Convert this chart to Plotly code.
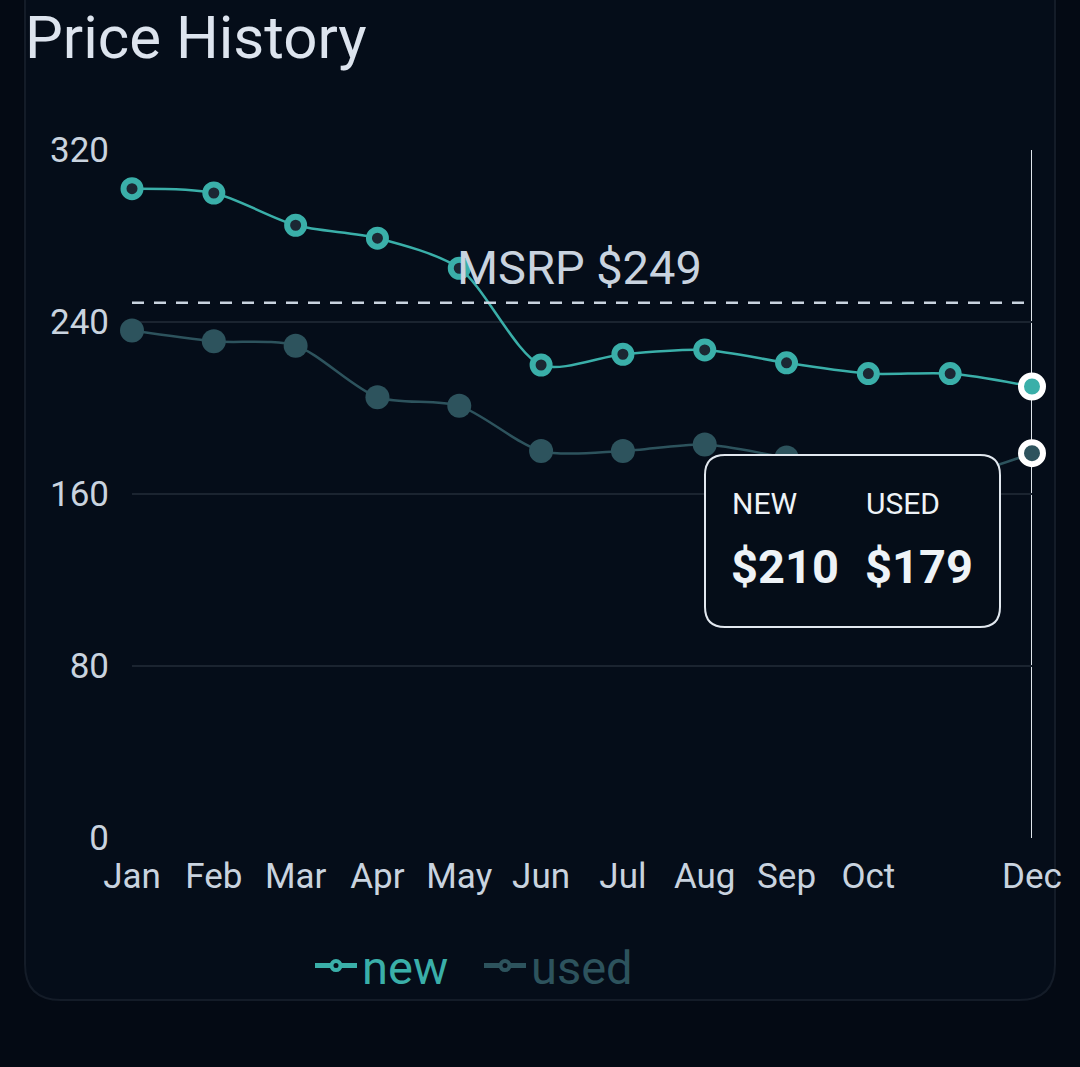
import plotly.graph_objects as go

months = ["Jan", "Feb", "Mar", "Apr", "May", "Jun", "Jul", "Aug", "Sep", "Oct", "Nov", "Dec"]
tick_months = ["Jan", "Feb", "Mar", "Apr", "May", "Jun", "Jul", "Aug", "Sep", "Oct", "Dec"]
new_prices = [302, 300, 285, 279, 265, 220, 225, 227, 221, 216, 216, 210]
used_prices = [236, 231, 229, 205, 201, 180, 180, 183, 177, 172, 168, 179]
msrp = 249
y_ticks = [0, 80, 160, 240, 320]

TEAL = "#3aafa9"
SLATE = "#2d535d"
BG = "#040a14"
CARD = "#050d19"
TXT = "#c9d3df"

# plot-area geometry (pixels) for layout-only decorations
L, R, T, B = 132, 1032, 150, 838
W, H = R - L, B - T


def px(x):
    return (x - L) / W


def py(y):
    return (B - y) / H


def rrect(x0, y0, x1, y1, r):
    pts = [
        ("M", [(x0 + r, y0)]),
        ("L", [(x1 - r, y0)]),
        ("Q", [(x1, y0), (x1, y0 + r)]),
        ("L", [(x1, y1 - r)]),
        ("Q", [(x1, y1), (x1 - r, y1)]),
        ("L", [(x0 + r, y1)]),
        ("Q", [(x0, y1), (x0, y1 - r)]),
        ("L", [(x0, y0 + r)]),
        ("Q", [(x0, y0), (x0 + r, y0)]),
    ]
    s = ""
    for cmd, ps in pts:
        s += cmd + " " + " ".join(f"{px(a):.5f},{py(b):.5f}" for a, b in ps) + " "
    return s + "Z"


fig = go.Figure()

fig.add_trace(go.Scatter(
    x=months, y=new_prices, mode="lines+markers", name="new", showlegend=False,
    line=dict(color=TEAL, width=2.5, shape="spline", smoothing=0.8),
    marker=dict(size=17, color="#1b2733", line=dict(color=TEAL, width=6)),
    cliponaxis=False,
))
fig.add_trace(go.Scatter(
    x=months, y=used_prices, mode="lines+markers", name="used", showlegend=False,
    line=dict(color=SLATE, width=2.5, shape="spline", smoothing=0.8),
    marker=dict(size=24, color=SLATE, line=dict(color=SLATE, width=0)),
    cliponaxis=False,
))
# highlighted (hovered) last points
fig.add_trace(go.Scatter(
    x=[months[-1], months[-1]], y=[new_prices[-1], used_prices[-1]], mode="markers",
    marker=dict(size=22, color=[TEAL, SLATE], line=dict(color="#ffffff", width=6)),
    showlegend=False, cliponaxis=False,
))
# legend entries
for nm, col in [("new", TEAL), ("used", SLATE)]:
    fig.add_trace(go.Scatter(
        x=[None], y=[None], mode="lines+markers",
        name=f"<span style='color:{col}'>{nm}</span>",
        line=dict(color=col, width=5),
        marker=dict(size=9, color=CARD, line=dict(color=col, width=4)),
    ))

shapes = [
    # card
    dict(type="path", xref="paper", yref="paper", path=rrect(25, -60, 1055, 1000, 36),
         fillcolor=CARD, line=dict(color="#141c28", width=2), layer="below"),
    # MSRP line
    dict(type="line", xref="x", yref="y", x0=months[0], x1=months[-1], y0=msrp, y1=msrp,
         line=dict(color=TXT, width=2.5, dash="12px,10px")),
    # hover spike
    dict(type="line", xref="x", yref="y", x0=months[-1], x1=months[-1], y0=y_ticks[0], y1=y_ticks[-1],
         line=dict(color="#dfe5ec", width=2), layer="below"),
    # tooltip box
    dict(type="path", xref="paper", yref="paper", path=rrect(705, 455, 1000, 627, 20),
         fillcolor="#050d18", line=dict(color="#e2e8ef", width=2)),
]

annotations = [
    dict(text="Price History", xref="paper", yref="paper", x=px(23), y=py(38),
         xanchor="left", yanchor="middle", showarrow=False,
         font=dict(size=60, color="#dde4ee")),
    dict(text=f"MSRP ${msrp}", xref="x", yref="y", x=months[4], y=msrp, xanchor="left",
         yanchor="bottom", yshift=6, xshift=-4, showarrow=False, font=dict(size=47, color=TXT)),
    dict(text="NEW", xref="paper", yref="paper", x=px(730), y=py(503), xanchor="left",
         yanchor="middle", showarrow=False, font=dict(size=30, color="#eef3f7")),
    dict(text="USED", xref="paper", yref="paper", x=px(864), y=py(503), xanchor="left",
         yanchor="middle", showarrow=False, font=dict(size=30, color="#eef3f7")),
    dict(text=f"<b>${new_prices[-1]}</b>", xref="paper", yref="paper", x=px(729), y=py(566),
         xanchor="left", yanchor="middle", showarrow=False, font=dict(size=47, color="#eef3f7")),
    dict(text=f"<b>${used_prices[-1]}</b>", xref="paper", yref="paper", x=px(863), y=py(566),
         xanchor="left", yanchor="middle", showarrow=False, font=dict(size=47, color="#eef3f7")),
]

fig.update_layout(
    width=1080, height=1067,
    margin=dict(l=L, r=1080 - R, t=T, b=1067 - B, pad=0),
    paper_bgcolor=BG, plot_bgcolor="rgba(0,0,0,0)",
    font=dict(family="Roboto", color=TXT, size=35),
    shapes=shapes, annotations=annotations,
    showlegend=True,
    legend=dict(orientation="h", x=px(310), y=py(966), xanchor="left", yanchor="middle",
                font=dict(size=47), bgcolor="rgba(0,0,0,0)", itemsizing="trace",
                itemwidth=42, tracegroupgap=0, entrywidth=112, entrywidthmode="pixels"),
    xaxis=dict(type="category", categoryorder="array", categoryarray=months,
               range=[0, len(months) - 1], tickvals=tick_months, ticktext=tick_months,
               showgrid=False, zeroline=False, showline=False, ticks="",
               ticklabelstandoff=14, tickfont=dict(size=35, color=TXT)),
    yaxis=dict(range=[y_ticks[0], y_ticks[-1]], tickvals=y_ticks, showgrid=True,
               gridcolor="#1b2430", gridwidth=2, zeroline=False, showline=False, ticks="",
               ticklabelstandoff=22, tickfont=dict(size=35, color=TXT)),
)

fig.write_html("out.html", config={"displayModeBar": False},
               post_script="document.body.style.margin='0';document.body.style.background='#040a14';")
